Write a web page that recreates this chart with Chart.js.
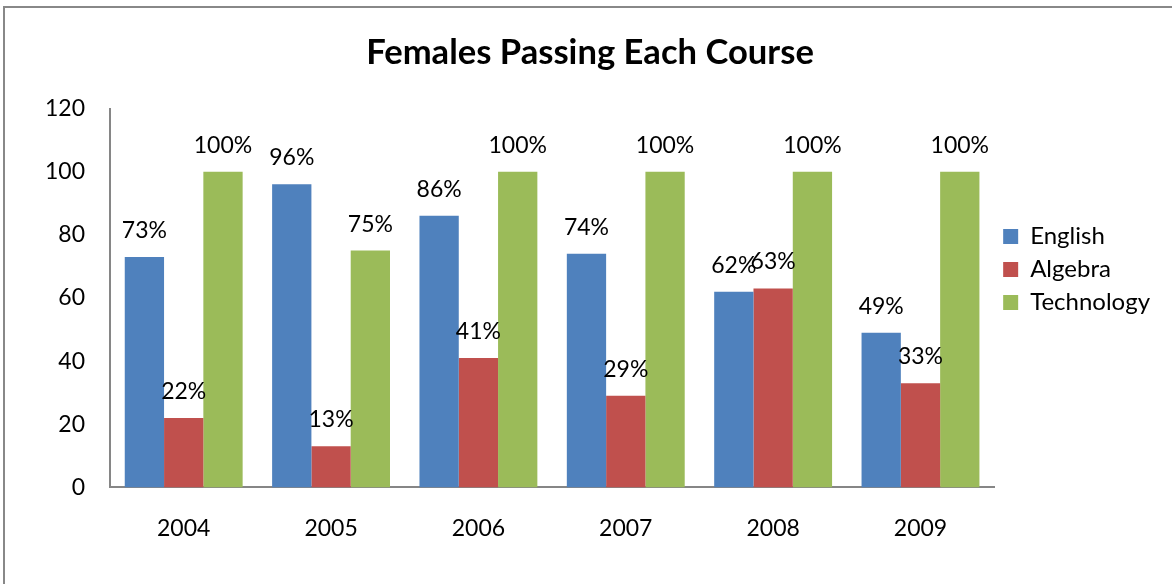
<!DOCTYPE html>
<html>
<head>
<meta charset="utf-8">
<script src="https://cdn.jsdelivr.net/npm/chart.js@4/dist/chart.umd.min.js"></script>
<style>
    body { margin: 0; background: #fff; }
    #wrap { position: relative; width: 1172px; height: 584px; }
    #frame {
        position: absolute; left: 3px; top: 6px; right: -10px; bottom: -10px;
        border-top: 2px solid #888; border-left: 2px solid #888;
        pointer-events: none;
    }
</style>
</head>
<body>
<div id="wrap">
    <canvas id="myChart" width="1172" height="584"></canvas>
    <div id="frame"></div>
</div>
<script>
const years = ["2004", "2005", "2006", "2007", "2008", "2009"];
const english = [73, 96, 86, 74, 62, 49];
const algebra = [22, 13, 41, 29, 63, 33];
const technology = [100, 75, 100, 100, 100, 100];

const fontFamily = "Lato, 'Open Sans', sans-serif";

// labels above each bar, like excel data labels
const barLabels = {
    id: "barLabels",
    afterDatasetsDraw(chart) {
        const ctx = chart.ctx;
        ctx.save();
        ctx.font = "23px " + fontFamily;
        ctx.fillStyle = "#000";
        ctx.textAlign = "center";
        ctx.textBaseline = "alphabetic";
        chart.data.datasets.forEach((ds, i) => {
            chart.getDatasetMeta(i).data.forEach((bar, j) => {
                ctx.fillText(ds.data[j] + "%", bar.x, bar.y - 19);
            });
        });
        ctx.restore();
    },
};

const ctx = document.getElementById("myChart").getContext("2d");
const myChart = new Chart(ctx, {
    type: "bar",
    data: {
        labels: years,
        datasets: [
            { label: "English", data: english, backgroundColor: "#4F81BD" },
            { label: "Algebra", data: algebra, backgroundColor: "#C0504D" },
            { label: "Technology", data: technology, backgroundColor: "#9BBB59" },
        ],
    },
    options: {
        responsive: false,
        animation: false,
        devicePixelRatio: 1,
        layout: { padding: { left: 20, right: 12, top: 0, bottom: 23 } },
        datasets: {
            bar: {
                categoryPercentage: 0.8,
                barPercentage: 1,
                borderWidth: 0,
            },
        },
        scales: {
            x: {
                grid: { display: false },
                border: { display: true, color: "#868686", width: 2 },
                ticks: { color: "#000", font: { family: fontFamily, size: 23 }, padding: 19 },
            },
            y: {
                min: 0,
                max: 120,
                grid: { display: false, drawTicks: false },
                border: { display: true, color: "#868686", width: 2 },
                ticks: { stepSize: 20, color: "#000", font: { family: fontFamily, size: 23 }, padding: 25 },
            },
        },
        plugins: {
            title: {
                display: true,
                text: "Females Passing Each Course",
                color: "#000",
                font: { family: fontFamily, size: 34.6, weight: "bold" },
                padding: { top: 32, bottom: 35 },
            },
            legend: {
                position: "right",
                align: "start",
                // empty title just pushes the items down
                title: { display: true, text: "", padding: { top: 0, bottom: 201 } },
                labels: {
                    color: "#000",
                    font: { family: fontFamily, size: 24 },
                    boxWidth: 15,
                    boxHeight: 15,
                    padding: 9,
                },
            },
            tooltip: { enabled: false },
        },
    },
    plugins: [barLabels],
});
</script>
</body>
</html>
